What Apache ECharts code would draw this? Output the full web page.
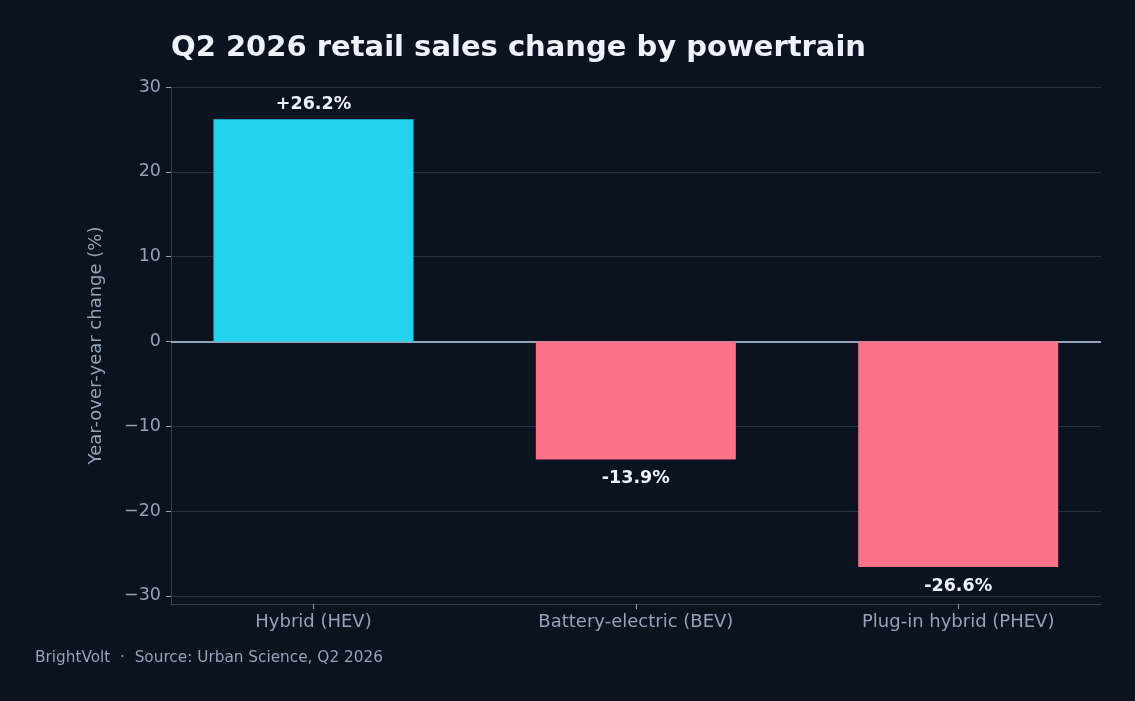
<!DOCTYPE html>
<html>
<head>
<meta charset="utf-8">
<script src="https://cdn.jsdelivr.net/npm/echarts@6/dist/echarts.min.js"></script>
<style>
  html, body { margin: 0; padding: 0; background: #0b1220; }
  #chart { width: 1135px; height: 701px; }
</style>
</head>
<body>
<div id="chart"></div>
<script>
// data
const categories = ['Hybrid (HEV)', 'Battery-electric (BEV)', 'Plug-in hybrid (PHEV)'];
const changes = [26.2, -13.9, -26.6];
const yTicks = [-30, -20, -10, 0, 10, 20, 30];

const upColor = '#22d3ee';
const downColor = '#fb7185';
const font = 'DejaVu Sans';

let chart = echarts.init(document.getElementById('chart'));

// grid lines drawn as markLines so they sit on the round values
let gridLines = yTicks.filter(v => v !== 0).map(v => ({ yAxis: v }));

let options = {
    backgroundColor: '#0b1220',
    animation: false,
    title: {
        text: 'Q2 2026 retail sales change by powertrain',
        left: 166,
        top: 29,
        textStyle: { color: '#eef2fb', fontFamily: font, fontWeight: 'bold', fontSize: 29 }
    },
    graphic: [{
        type: 'text',
        left: 35,
        top: 651,
        style: {
            text: 'BrightVolt  \u00b7  Source: Urban Science, Q2 2026',
            fill: '#94a3b8',
            font: '15.3px "DejaVu Sans"'
        }
    }],
    grid: { left: 171, right: 34, top: 87, bottom: 97 },
    xAxis: {
        type: 'value',
        min: -0.442,
        max: 2.443,
        axisLine: { show: true, onZero: false, lineStyle: { color: '#334155' } },
        axisTick: { show: true, customValues: [0, 1, 2], length: 5, lineStyle: { color: '#94a3b8' } },
        axisLabel: {
            customValues: [0, 1, 2],
            formatter: v => categories[Math.round(v)],
            color: '#94a3b8',
            fontFamily: font,
            fontSize: 18,
            margin: 9
        },
        splitLine: { show: false }
    },
    yAxis: {
        type: 'value',
        min: -30.95,
        max: 30,
        name: 'Year-over-year change (%)',
        nameLocation: 'middle',
        nameGap: 66,
        nameTextStyle: { color: '#94a3b8', fontFamily: font, fontSize: 18 },
        axisLine: { show: true, onZero: false, lineStyle: { color: '#334155' } },
        axisTick: { show: true, customValues: yTicks, length: 5, lineStyle: { color: '#94a3b8' } },
        axisLabel: {
            customValues: yTicks,
            formatter: v => String(v).replace('-', '\u2212'),
            color: '#94a3b8',
            fontFamily: font,
            fontSize: 17.5,
            margin: 10,
            padding: [4, 0, 0, 0]
        },
        splitLine: { show: false }
    },
    series: [{
        type: 'bar',
        barWidth: 200,
        data: changes.map((v, i) => ({
            value: [i, v],
            itemStyle: { color: v >= 0 ? upColor : downColor },
            label: { position: v >= 0 ? 'top' : 'bottom', distance: v >= 0 ? 6 : 10 }
        })),
        label: {
            show: true,
            formatter: p => (p.value[1] > 0 ? '+' : '') + p.value[1].toFixed(1) + '%',
            color: '#eef2fb',
            fontFamily: font,
            fontWeight: 'bold',
            fontSize: 17.5
        },
        markLine: {
            silent: true,
            symbol: 'none',
            label: { show: false },
            z: 1,
            lineStyle: { color: '#243147', type: 'solid', width: 1 },
            data: gridLines.concat([{ yAxis: 0, lineStyle: { color: '#94a3b8', width: 2 } }])
        }
    }]
};

chart.setOption(options);
</script>
</body>
</html>
